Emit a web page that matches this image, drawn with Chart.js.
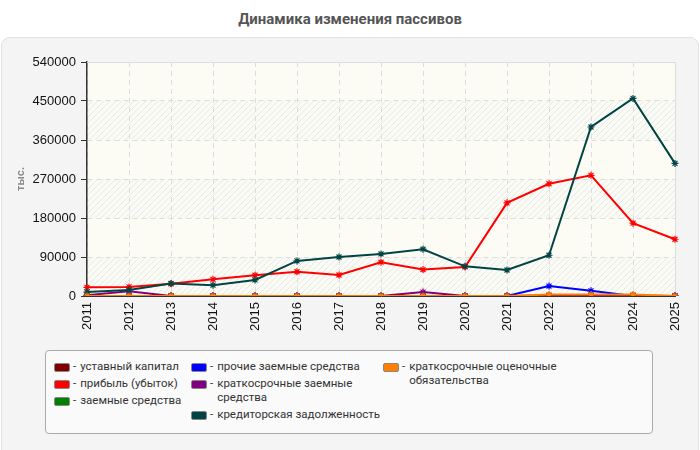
<!DOCTYPE html>
<html>
<head>
<meta charset="utf-8">
<script src="https://cdn.jsdelivr.net/npm/chart.js@4"></script>
<style>
  body { margin: 0; background: #fff; font-family: "Liberation Sans", Arial, sans-serif; }
  #wrap { position: relative; width: 700px; height: 450px; overflow: hidden; }
  #title { position: absolute; top: 10px; left: 0; width: 700px; text-align: center;
    font-weight: bold; font-size: 15px; color: #555; font-family: Roboto, sans-serif; }
  #panel { position: absolute; left: 1px; top: 37px; width: 696px; height: 420px;
    background: #f4f4f4; border: 1px solid #e2e2e2; border-radius: 9px; }
  #myChart { position: absolute; left: 0; top: 37px; }
  #legend { position: absolute; left: 45px; top: 350px; width: 606px; height: 82px;
    background: #fafafa; border: 1px solid #aaa; border-radius: 4px; }
  .col { position: absolute; top: 9px; }
  .item { display: flex; align-items: flex-start; font-size: 11.5px; line-height: 13.5px;
    color: #333; margin-bottom: 3.5px; font-family: Roboto, sans-serif; }
  .sw { width: 14px; height: 7px; border: 1px solid #888; border-radius: 2px;
    margin-top: 3px; margin-right: 3px; flex: none; }
  .dash { margin-right: 4px; }
  .txt { max-width: 170px; }
</style>
</head>
<body>
<div id="wrap">
  <div id="title">Динамика изменения пассивов</div>
  <div id="panel"></div>
  <canvas id="myChart" width="700" height="310"></canvas>
  <div id="legend"></div>
</div>
<script>
const years = ["2011", "2012", "2013", "2014", "2015", "2016", "2017", "2018",
  "2019", "2020", "2021", "2022", "2023", "2024", "2025"];

// тыс.
const ustavnyi = [10, 10, 10, 10, 10, 10, 10, 10, 10, 10, 10, 10, 10, 10, 10];
const pribyl = [20000, 21000, 28000, 38500, 48000, 56000, 48500, 78000, 61000, 67000,
  215000, 259000, 278500, 168000, 131000];
const zaemnye = [0, 0, 0, 0, 0, 0, 0, 0, 0, 0, 0, 0, 0, 0, 0];
const prochie = [0, 0, 0, 0, 0, 0, 0, 0, 0, 0, 0, 23000, 12000, 0, 0];
const kratkZaem = [2000, 11000, 0, 0, 0, 0, 0, 0, 9000, 0, 0, 1000, 1000, 1000, 0];
const kreditor = [9000, 14000, 29000, 25000, 37000, 81000, 90000, 97000, 108000, 68500,
  60000, 94000, 390000, 456000, 306000];
const ocenochnye = [0, 0, 0, 0, 0, 0, 0, 0, 0, 0, 0, 3500, 3500, 3500, 0];

const seriesNames = ["уставный капитал", "прибыль (убыток)", "заемные средства",
  "прочие заемные средства", "краткосрочные заемные средства",
  "кредиторская задолженность", "краткосрочные оценочные обязательства"];
const seriesColors = ["#800000", "#ff0000", "#008000", "#0000ff", "#800080", "#004444", "#ff8000"];
const seriesData = [ustavnyi, pribyl, zaemnye, prochie, kratkZaem, kreditor, ocenochnye];

// hatched background bands, like the original plot
const bgPlugin = {
  id: "bands",
  beforeDraw(chart) {
    const { ctx, chartArea: a, scales: { y } } = chart;
    const pc = document.createElement("canvas");
    pc.width = 6; pc.height = 6;
    const p = pc.getContext("2d");
    p.fillStyle = "#fbfbf6";
    p.fillRect(0, 0, 6, 6);
    p.strokeStyle = "#e8e8e6";
    p.lineWidth = 1;
    p.beginPath();
    p.moveTo(0, 6); p.lineTo(6, 0);
    p.moveTo(-1, 1); p.lineTo(1, -1);
    p.moveTo(5, 7); p.lineTo(7, 5);
    p.stroke();
    const hatch = ctx.createPattern(pc, "repeat");
    ctx.save();
    ctx.fillStyle = "#fcfcf4";
    ctx.fillRect(a.left, a.top, a.right - a.left, a.bottom - a.top);
    const ticks = y.ticks.map(t => t.value);
    for (let i = 0; i < ticks.length - 1; i++) {
      if (i % 2 === 0) {
        const y1 = y.getPixelForValue(ticks[i]);
        const y2 = y.getPixelForValue(ticks[i + 1]);
        ctx.fillStyle = hatch;
        ctx.fillRect(a.left, y2, a.right - a.left, y1 - y2);
      }
    }
    ctx.restore();
  },
  beforeDatasetsDraw(chart) {
    const { ctx, chartArea: a } = chart;
    ctx.save();
    ctx.strokeStyle = "#dddddd";
    ctx.lineWidth = 1;
    ctx.beginPath();
    ctx.moveTo(a.left, a.top + 0.5);
    ctx.lineTo(a.right + 0.5, a.top + 0.5);
    ctx.lineTo(a.right + 0.5, a.bottom);
    ctx.stroke();
    ctx.restore();
  }
};

const datasets = seriesData.map((d, i) => ({
  label: seriesNames[i],
  data: d,
  borderColor: seriesColors[i],
  backgroundColor: seriesColors[i],
  borderWidth: 2,
  pointStyle: "star",
  pointRadius: 3.5,
  pointBorderWidth: 1.2,
  fill: false,
  tension: 0,
  order: 6 - i,
}));

const chart = new Chart("myChart", {
  type: "line",
  data: { labels: years, datasets: datasets },
  plugins: [bgPlugin],
  options: {
    responsive: false,
    animation: false,
    devicePixelRatio: 1,
    layout: { padding: { top: 25, right: 25, left: 0, bottom: 0 } },
    plugins: { legend: { display: false }, tooltip: { enabled: false } },
    scales: {
      x: {
        afterFit: s => { s.height = 51; },
        grid: { color: "#dddddd", drawTicks: false, offset: false },
        border: { color: "#333", dash: [5, 4] },
        ticks: { color: "#111", font: { size: 13, family: "Liberation Sans" },
          minRotation: 90, maxRotation: 90, padding: 6 },
      },
      y: {
        min: 0,
        max: 540000,
        afterFit: s => { s.width = 87; },
        grid: { color: "#dddddd", tickColor: "#333", tickLength: 6 },
        border: { color: "#333", width: 1.5, dash: [5, 4] },
        ticks: { stepSize: 90000, color: "#111", padding: 5,
          font: { size: 13, family: "Liberation Sans" },
          callback: v => String(v) },
        title: { display: true, text: "тыс.", color: "#888",
          font: { size: 11, weight: "bold", family: "Liberation Sans" },
          padding: { top: 14, bottom: 0 } },
      },
    },
  },
});

// html legend in three columns
const legend = document.getElementById("legend");
const columns = [[0, 1, 2], [3, 4, 5], [6]];
const colLeft = [8, 145, 337];
columns.forEach((idx, c) => {
  const col = document.createElement("div");
  col.className = "col";
  col.style.left = colLeft[c] + "px";
  idx.forEach(i => {
    const item = document.createElement("div");
    item.className = "item";
    item.innerHTML = `<span class="sw" style="background:${seriesColors[i]}"></span>` +
      `<span class="dash">-</span><span class="txt">${seriesNames[i]}</span>`;
    col.appendChild(item);
  });
  legend.appendChild(col);
});
</script>
</body>
</html>
